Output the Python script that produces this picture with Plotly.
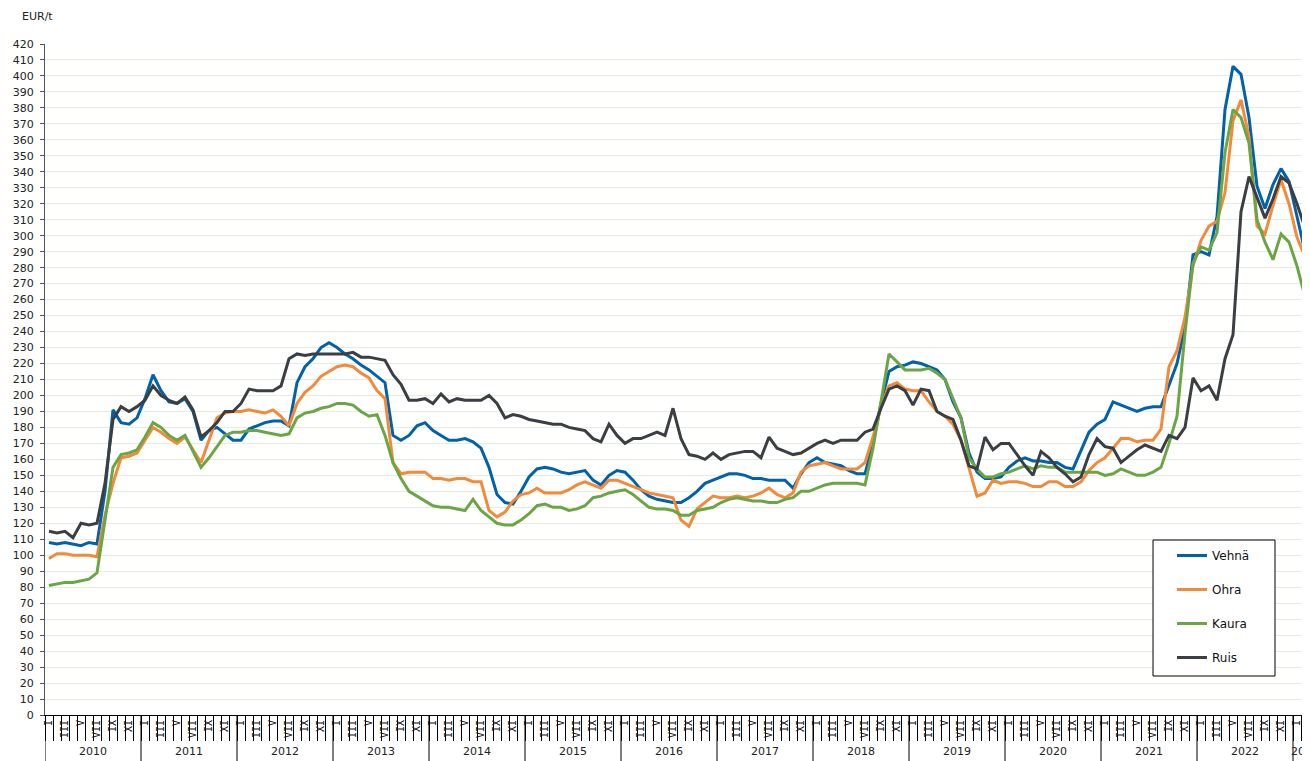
import plotly.graph_objects as go

# ---------------- data (EUR/t, monthly Jan 2010 – Feb 2023) ----------------
years = [2010, 2011, 2012, 2013, 2014, 2015, 2016, 2017, 2018, 2019, 2020, 2021, 2022, 2023]
roman = ["I", "II", "III", "IV", "V", "VI", "VII", "VIII", "IX", "X", "XI", "XII"]

vehna = [
    108, 107, 108, 107, 106, 108, 107, 140, 191, 183, 182, 186,
    198, 213, 203, 196, 195, 198, 190, 172, 178, 180, 176, 172,
    172, 179, 181, 183, 184, 184, 181, 208, 218, 223, 230, 233,
    230, 226, 223, 219, 216, 212, 208, 175, 172, 175, 181, 183,
    178, 175, 172, 172, 173, 171, 167, 155, 138, 133, 132, 140,
    149, 154, 155, 154, 152, 151, 152, 153, 147, 144, 150, 153,
    152, 147, 141, 137, 135, 134, 133, 133, 136, 140, 145, 147,
    149, 151, 151, 150, 148, 148, 147, 147, 147, 142, 151, 158,
    161, 158, 157, 156, 153, 151, 151, 170, 195, 215, 218, 219,
    221, 220, 218, 216, 210, 196, 186, 164, 152, 148, 148, 149,
    155, 159, 161, 159, 159, 158, 158, 155, 154, 166, 177, 182,
    185, 196, 194, 192, 190, 192, 193, 193, 207, 220, 243, 288,
    290, 288, 312, 379, 406, 401, 374, 331, 317, 332, 342, 334,
    312, 290,
]
ohra = [
    98, 101, 101, 100, 100, 100, 99, 125, 145, 161, 162, 164,
    172, 180, 177, 173, 170, 174, 166, 158, 172, 186, 189, 190,
    190, 191, 190, 189, 191, 187, 181, 195, 202, 206, 212, 215,
    218, 219, 218, 214, 211, 203, 198, 158, 151, 152, 152, 152,
    148, 148, 147, 148, 148, 146, 146, 128, 124, 127, 134, 138,
    139, 142, 139, 139, 139, 141, 144, 146, 144, 142, 147, 147,
    145, 143, 141, 139, 138, 137, 136, 122, 118, 129, 133, 137,
    136, 136, 137, 136, 137, 139, 142, 138, 136, 139, 152, 156,
    157, 158, 156, 154, 154, 154, 158, 174, 193, 206, 208, 204,
    203, 203, 196, 190, 187, 182, 172, 155, 137, 139, 147, 145,
    146, 146, 145, 143, 143, 146, 146, 143, 143, 146, 153, 158,
    161, 167, 173, 173, 171, 172, 172, 179, 218, 228, 249, 281,
    297, 306, 309, 327, 372, 385, 362, 306, 301, 319, 335, 320,
    299, 287,
]
kaura = [
    81, 82, 83, 83, 84, 85, 89, 122, 155, 163, 164, 166,
    174, 183, 180, 175, 172, 175, 165, 155, 161, 168, 175, 177,
    177, 178, 178, 177, 176, 175, 176, 186, 189, 190, 192, 193,
    195, 195, 194, 190, 187, 188, 175, 158, 148, 140, 137, 134,
    131, 130, 130, 129, 128, 135, 128, 124, 120, 119, 119, 122,
    126, 131, 132, 130, 130, 128, 129, 131, 136, 137, 139, 140,
    141, 138, 134, 130, 129, 129, 128, 125, 125, 128, 129, 130,
    133, 135, 136, 135, 134, 134, 133, 133, 135, 136, 140, 140,
    142, 144, 145, 145, 145, 145, 144, 167, 196, 226, 221, 216,
    216, 216, 217, 214, 210, 198, 186, 161, 154, 149, 149, 151,
    152, 154, 156, 154, 156, 155, 155, 152, 152, 152, 152, 152,
    150, 151, 154, 152, 150, 150, 152, 155, 170, 187, 239, 283,
    293, 291, 302, 352, 379, 374, 358, 310, 296, 285, 301, 296,
    281, 262,
]
ruis = [
    115, 114, 115, 111, 120, 119, 120, 145, 185, 193, 190, 193,
    197, 206, 200, 197, 195, 199, 191, 174, 178, 183, 190, 190,
    195, 204, 203, 203, 203, 206, 223, 226, 225, 226, 226, 226,
    226, 226, 227, 224, 224, 223, 222, 213, 207, 197, 197, 198,
    195, 201, 196, 198, 197, 197, 197, 200, 195, 186, 188, 187,
    185, 184, 183, 182, 182, 180, 179, 178, 173, 171, 182, 175,
    170, 173, 173, 175, 177, 175, 192, 173, 163, 162, 160, 164,
    160, 163, 164, 165, 165, 161, 174, 167, 165, 163, 164, 167,
    170, 172, 170, 172, 172, 172, 177, 179, 192, 204, 206, 203,
    194, 204, 203, 190, 187, 185, 172, 156, 154, 174, 166, 170,
    170, 163, 156, 150, 165, 161, 155, 151, 146, 149, 163, 173,
    168, 167, 158, 162, 166, 169, 167, 165, 175, 173, 180, 211,
    203, 206, 197, 223, 238, 315, 337, 324, 311, 323, 337, 333,
    320, 305,
]

series = [
    ("Vehnä", vehna, "#0061AD"),
    ("Ohra", ohra, "#F5893A"),
    ("Kaura", kaura, "#6AA744"),
    ("Ruis", ruis, "#3B3F43"),
]

n = len(vehna)
xidx = list(range(n))
tickvals = [i for i in xidx if (i % 12) % 2 == 0]
ticktext = [roman[i % 12] for i in tickvals]

FONT = "DejaVu Sans"

fig = go.Figure()
for name, vals, col in series:
    fig.add_trace(go.Scatter(
        x=xidx, y=vals, mode="lines", name=name, legendgroup=name,
        line=dict(color=col, width=3), hoverinfo="skip",
    ))

# page has an 8px body margin: figure drawn at (8, 8)
OFF = 8
W, H = 1310 - OFF, 761 - OFF
L, T = 45 - OFF, 44 - OFF
plot_w, plot_h = 1264, 671
B = H - T - plot_h
R = W - L - plot_w

def px_x(p):  # page x -> paper x
    return (p - 45) / plot_w

def px_y(p):  # page y -> paper y
    return (715 - p) / plot_h

shapes = []
# year separators below axis
for k in range(len(years)):
    xs = 12 * k - 0.5
    if xs > n - 0.5:
        break
    shapes.append(dict(type="line", xref="x", yref="paper", x0=xs, x1=xs,
                       y0=0, y1=-B / plot_h, line=dict(color="black", width=1)))

# legend box
shapes.append(dict(type="rect", xref="paper", yref="paper",
                   x0=px_x(1153), x1=px_x(1275), y0=px_y(676), y1=px_y(540),
                   line=dict(color="black", width=1), fillcolor="white", layer="above"))

annotations = []
for k, yr in enumerate(years):
    start = 12 * k
    end = min(12 * k + 11, n - 1)
    if start > n - 1:
        break
    if end - start < 11:
        # partial last year: label cut at the right edge, as in the original
        annotations.append(dict(x=start - 1.0, y=px_y(751), xref="x", yref="paper",
                                text=str(yr), showarrow=False, xanchor="left", yanchor="middle",
                                font=dict(family=FONT, size=11, color="#222")))
    else:
        annotations.append(dict(x=(start + end) / 2, y=px_y(751), xref="x", yref="paper",
                                text=str(yr), showarrow=False, xanchor="center", yanchor="middle",
                                font=dict(family=FONT, size=11, color="#222")))
annotations.append(dict(x=px_x(20), y=px_y(17), xref="paper", yref="paper", text="EUR/t",
                        showarrow=False, xanchor="left", yanchor="middle",
                        font=dict(family=FONT, size=11, color="#222")))

fig.update_layout(
    width=W, height=H,
    margin=dict(l=L, r=R, t=T, b=B, pad=0),
    paper_bgcolor="white", plot_bgcolor="white",
    font=dict(family=FONT, size=11, color="#222"),
    showlegend=True,
    legend=dict(x=px_x(1172), y=px_y(541), xanchor="left", yanchor="top",
                bgcolor="rgba(0,0,0,0)", borderwidth=0, tracegroupgap=15,
                font=dict(family=FONT, size=12, color="#111")),
    shapes=shapes,
    annotations=annotations,
    xaxis=dict(
        range=[-0.5, n - 0.5], showgrid=False, zeroline=False,
        showline=True, linecolor="black", linewidth=1,
        tickmode="array", tickvals=tickvals, ticktext=ticktext,
        tickangle=-90, ticks="", tickfont=dict(family="DejaVu Sans Mono", size=10, color="#111"),
        minor=dict(tickmode="linear", tick0=-0.5, dtick=1, ticks="outside",
                   ticklen=25, tickcolor="black", tickwidth=1, showgrid=False),
        fixedrange=True,
    ),
    yaxis=dict(
        range=[0, 420], dtick=10, tick0=0, showgrid=True, gridcolor="#E6EEDB", gridwidth=1,
        zeroline=False, showline=True, linecolor="#555", linewidth=1,
        ticks="outside", ticklen=4, tickcolor="#555", ticklabelstandoff=4,
        tickfont=dict(family=FONT, size=11, color="#222"), fixedrange=True,
    ),
)

fig.write_html("out.html")
